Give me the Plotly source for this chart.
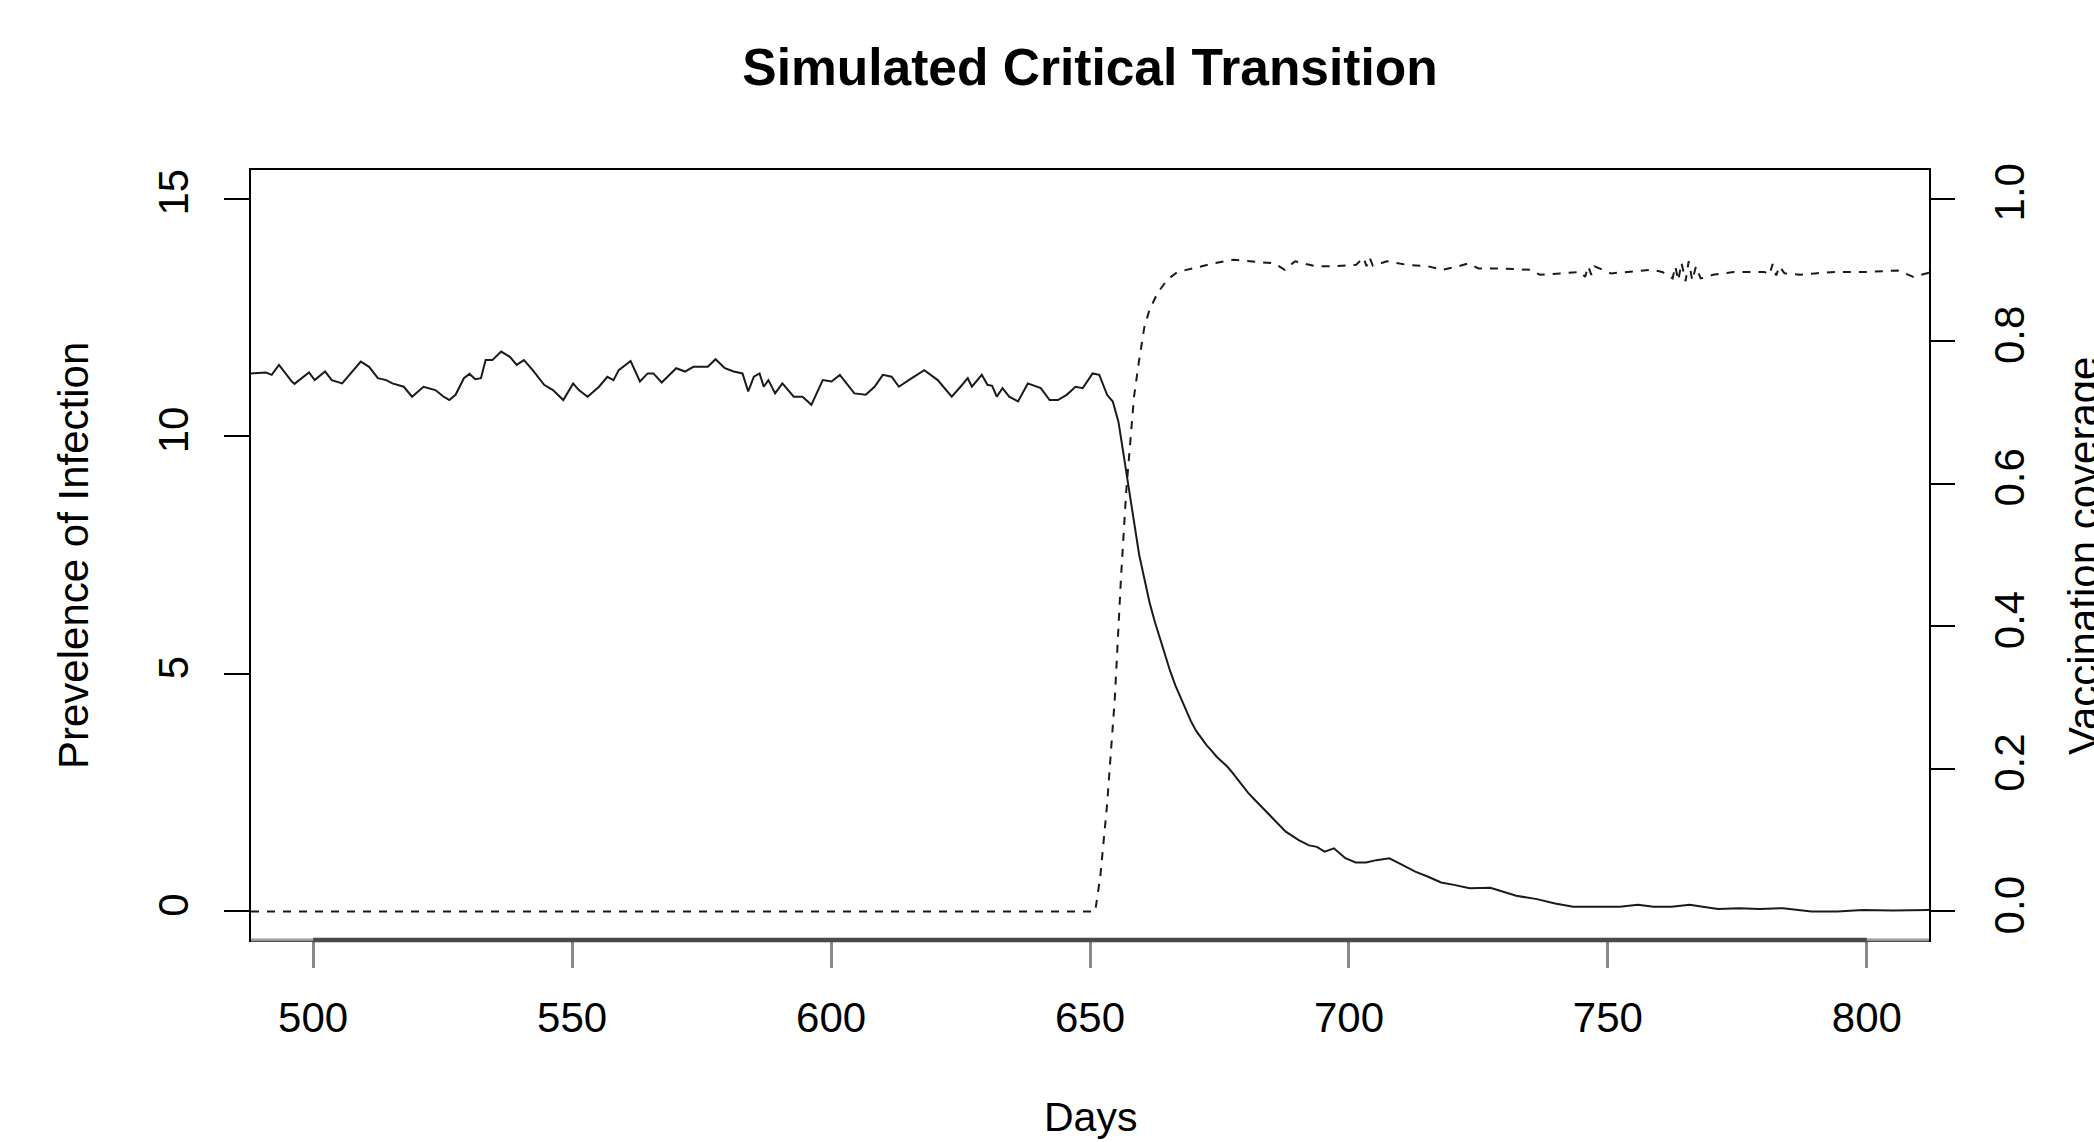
import plotly.graph_objects as go

# ---------------- data ----------------
infection_days = [
    488.0, 490.9, 492.0, 493.4, 495.9, 496.4, 499.2, 500.3, 502.3, 503.6, 505.6, 507.5,
    509.2, 510.8, 512.5, 514.1, 515.3, 517.5, 519.1, 521.3, 523.6, 525.2, 526.3, 527.5,
    529.1, 530.2, 531.3, 532.4, 533.3, 534.6, 536.3, 538.0, 539.3, 540.7, 542.4, 544.6,
    546.3, 548.3, 550.2, 551.3, 553.0, 555.2, 556.8, 558.0, 559.0, 561.3, 563.1, 564.6,
    565.7, 567.3, 568.8, 570.1, 571.8, 573.4, 576.2, 577.7, 579.5, 581.2, 582.9, 584.0,
    585.1, 586.2, 587.0, 587.9, 589.2, 590.6, 592.8, 594.5, 596.2, 598.4, 600.1, 601.7,
    604.5, 606.7, 608.4, 610.0, 611.7, 613.1, 615.0, 618.0, 620.6, 623.3, 625.0, 626.4,
    627.2, 629.1, 630.2, 631.1, 632.0, 633.1, 634.4, 636.1, 638.0, 640.5, 642.2, 643.8,
    645.5, 647.2, 648.6, 650.5, 651.8, 653.3, 654.4, 655.5, 656.5, 657.5, 658.5, 659.5,
    660.5, 661.5, 662.5, 663.5, 664.5, 665.5, 666.5, 667.5, 668.5, 669.5, 670.5, 671.5,
    672.5, 673.5, 674.5, 675.5, 676.5, 677.5, 678.5, 679.5, 680.5, 681.8, 685.3, 687.8,
    690.3, 692.3, 693.8, 695.3, 697.1, 699.3, 701.3, 703.3, 705.3, 707.8, 710.3, 712.8,
    715.3, 717.8, 720.3, 723.3, 727.3, 729.8, 732.3, 736.3, 739.8, 743.3, 748.3, 752.3,
    755.8, 758.8, 762.3, 765.8, 768.3, 771.3, 775.3, 779.3, 783.8, 789.3, 794.3, 799.2,
    805.0, 812.0,
]
prevalence = [
    11.32, 11.34, 11.29, 11.50, 11.15, 11.10, 11.34, 11.18, 11.36, 11.18, 11.11, 11.36,
    11.57, 11.46, 11.22, 11.18, 11.11, 11.04, 10.83, 11.04, 10.97, 10.83, 10.76, 10.87,
    11.22, 11.31, 11.20, 11.22, 11.60, 11.60, 11.78, 11.67, 11.50, 11.60, 11.39, 11.08,
    10.97, 10.76, 11.11, 10.97, 10.83, 11.04, 11.25, 11.18, 11.39, 11.58, 11.15, 11.32,
    11.32, 11.13, 11.29, 11.43, 11.36, 11.46, 11.46, 11.62, 11.43, 11.36, 11.32, 10.94,
    11.25, 11.32, 11.04, 11.18, 10.90, 11.11, 10.83, 10.83, 10.66, 11.18, 11.15, 11.29,
    10.90, 10.87, 11.04, 11.29, 11.25, 11.04, 11.18, 11.39, 11.18, 10.83, 11.04, 11.22,
    11.04, 11.29, 11.08, 11.06, 10.83, 11.01, 10.83, 10.73, 11.11, 11.01, 10.76, 10.76,
    10.87, 11.04, 11.01, 11.32, 11.29, 10.87, 10.73, 10.30, 9.60, 8.90, 8.20, 7.50,
    7.00, 6.50, 6.10, 5.75, 5.35, 5.05, 4.75, 4.50, 4.25, 4.00, 3.80, 3.65,
    3.50, 3.38, 3.25, 3.15, 3.05, 2.92, 2.78, 2.64, 2.50, 2.35, 1.96, 1.68,
    1.50, 1.39, 1.36, 1.26, 1.33, 1.12, 1.03, 1.03, 1.08, 1.12, 0.98, 0.84,
    0.73, 0.61, 0.56, 0.49, 0.50, 0.42, 0.33, 0.26, 0.17, 0.10, 0.10, 0.10,
    0.14, 0.10, 0.10, 0.14, 0.10, 0.05, 0.07, 0.05, 0.07, 0.00, 0.00, 0.03,
    0.02, 0.03,
]

vaccination_days = [
    488.0, 651.0, 652.0, 653.3, 654.8, 656.0, 657.0, 658.0, 658.5, 659.5, 660.5, 661.5,
    663.0, 664.9, 666.9, 669.9, 673.8, 677.7, 681.7, 685.6, 687.6, 689.6, 693.5, 697.4,
    701.4, 702.8, 703.4, 704.0, 704.6, 705.3, 707.3, 711.2, 715.2, 718.1, 721.1, 723.1,
    725.0, 729.0, 734.9, 736.9, 740.8, 744.7, 745.6, 746.2, 746.8, 747.4, 750.6, 754.6,
    758.5, 760.5, 762.5, 763.0, 763.6, 764.2, 765.0, 765.6, 766.3, 767.0, 767.9, 770.3,
    774.3, 777.2, 780.2, 781.2, 781.8, 782.5, 783.1, 784.1, 787.1, 790.0, 794.0, 800.0,
    806.0, 809.0, 812.0,
]
coverage = [
    0.0, 0.0, 0.05, 0.15, 0.30, 0.47, 0.59, 0.68, 0.722, 0.774, 0.820, 0.844,
    0.867, 0.886, 0.897, 0.902, 0.909, 0.914, 0.912, 0.909, 0.900, 0.912, 0.905, 0.905,
    0.907, 0.917, 0.905, 0.917, 0.906, 0.907, 0.912, 0.907, 0.905, 0.900, 0.905, 0.909,
    0.902, 0.902, 0.900, 0.893, 0.895, 0.897, 0.890, 0.905, 0.893, 0.905, 0.895, 0.897,
    0.900, 0.897, 0.888, 0.905, 0.885, 0.910, 0.884, 0.912, 0.885, 0.905, 0.888, 0.893,
    0.897, 0.897, 0.897, 0.893, 0.908, 0.892, 0.905, 0.895, 0.893, 0.895, 0.897, 0.897,
    0.899, 0.890, 0.896,
]

x_ticks = [500, 550, 600, 650, 700, 750, 800]
y_ticks = [0, 5, 10, 15]
y2_ticks = [0.0, 0.2, 0.4, 0.6, 0.8, 1.0]
y2_tick_labels = ["0.0", "0.2", "0.4", "0.6", "0.8", "1.0"]

FONT = "Liberation Sans, Arial, Helvetica, sans-serif"

fig = go.Figure()
fig.add_trace(go.Scatter(
    x=infection_days, y=prevalence, mode="lines",
    line=dict(color="#1a1a1a", width=2), yaxis="y", showlegend=False,
))
fig.add_trace(go.Scatter(
    x=vaccination_days, y=coverage, mode="lines",
    line=dict(color="#1a1a1a", width=2, dash="8px,8px"), yaxis="y2", showlegend=False,
))

fig.update_layout(
    width=2094, height=1142,
    margin=dict(l=251, r=165, t=170, b=202, autoexpand=False),
    paper_bgcolor="white", plot_bgcolor="white",
    font=dict(family=FONT, size=42, color="black"),
    showlegend=False,
    title=dict(
        text="<b>Simulated Critical Transition</b>",
        font=dict(family=FONT, size=51.5, color="black"),
        x=0.5, xref="paper", xanchor="center",
        y=1 - 67 / 1142, yref="container", yanchor="middle",
    ),
    xaxis=dict(
        range=[488, 812], tickvals=x_ticks, ticks="outside", ticklen=26,
        tickwidth=3, tickcolor="#8a8a8a", showline=True, mirror=True,
        linecolor="black", linewidth=1.5, showgrid=False, zeroline=False,
        tickfont=dict(family=FONT, size=42, color="black"),
        ticklabelstandoff=14,
    ),
    yaxis=dict(
        range=[-0.6, 15.6], tickvals=y_ticks, ticks="outside", ticklen=25,
        tickwidth=1.8, tickcolor="black", showline=True, mirror=True,
        linecolor="black", linewidth=1.5, showgrid=False, zeroline=False,
        tickangle=-90, tickfont=dict(family=FONT, size=42, color="black"),
        ticklabelstandoff=19,
    ),
    yaxis2=dict(
        range=[-0.04, 1.04], tickvals=y2_ticks, ticktext=y2_tick_labels,
        overlaying="y", side="right", ticks="outside", ticklen=25,
        tickwidth=1.8, tickcolor="black", showline=False, showgrid=False,
        zeroline=False, tickangle=-90,
        tickfont=dict(family=FONT, size=42, color="black"),
        ticklabelstandoff=19,
    ),
    shapes=[
        dict(type="line", xref="paper", yref="paper", x0=0, x1=1, y0=0, y1=0,
             line=dict(color="#9a9a9a", width=3), layer="above"),
        dict(type="line", xref="x", yref="paper", x0=x_ticks[0], x1=x_ticks[-1],
             y0=0, y1=0, line=dict(color="#4a4a4a", width=4.5), layer="above"),
    ],
    annotations=[
        dict(text="Days", xref="paper", yref="paper", x=0.5, y=(940 - 1117) / 770,
             xanchor="center", yanchor="middle", showarrow=False,
             font=dict(family=FONT, size=41, color="black")),
        dict(text="Prevelence of Infection", xref="paper", yref="paper",
             x=(73 - 251) / 1678, y=(940 - 556) / 770, textangle=-90,
             xanchor="center", yanchor="middle", showarrow=False,
             font=dict(family=FONT, size=42, color="black")),
        dict(text="Vaccination coverage", xref="paper", yref="paper",
             x=(2083 - 251) / 1678, y=(940 - 556) / 770, textangle=-90,
             xanchor="center", yanchor="middle", showarrow=False,
             font=dict(family=FONT, size=42, color="black")),
    ],
)

fig.write_html("out.html")
